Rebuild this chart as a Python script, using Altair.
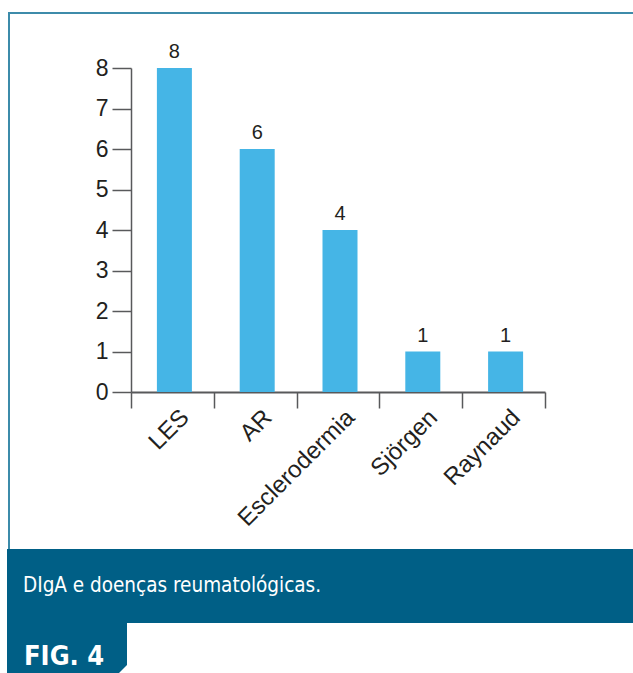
import altair as alt
import pandas as pd

# Casos de DIgA por doença reumatológica
doencas = ["LES", "AR", "Esclerodermia", "Sjörgen", "Raynaud"]
casos = [8, 6, 4, 1, 1]
y_ticks = [0, 1, 2, 3, 4, 5, 6, 7, 8]

legenda = "DIgA e doenças reumatológicas."
figura = "FIG. 4"

df = pd.DataFrame({"doenca": doencas, "casos": casos})

SANS = "Liberation Sans"
NARROW = "DejaVu Sans Condensed"
INK = "#231F20"
AXIS = "#58595B"
BAR = "#45B5E6"
PANEL = "#005F86"
FRAME = "#3D8BAA"

# Plot area is placed with padding; the frame and caption sit in the padding.
PAD = {"left": 131, "top": 68, "right": 88, "bottom": 281}
W, H = 414, 324

x = alt.X(
    "doenca:N",
    sort=doencas,
    title=None,
    scale=alt.Scale(paddingInner=0, paddingOuter=0),
    axis=alt.Axis(
        labelAngle=-45,
        labelAlign="right",
        labelBaseline="top",
        labelFont=SANS,
        labelFontSize=24,
        labelColor=INK,
        labelPadding=-3,
        labelOffset=4,
        tickBand="extent",
        tickSize=16,
        tickColor=AXIS,
        tickWidth=1.5,
        domainColor=AXIS,
        domainWidth=2,
        grid=False,
    ),
)
y = alt.Y(
    "casos:Q",
    title=None,
    scale=alt.Scale(domain=[0, 8], nice=False),
    axis=alt.Axis(
        values=y_ticks,
        labelFont=SANS,
        labelFontSize=23,
        labelColor=INK,
        labelPadding=4,
        tickSize=19,
        tickColor=AXIS,
        tickWidth=1.5,
        domainColor=AXIS,
        domainWidth=1.5,
        grid=False,
    ),
)

bars = alt.Chart(df).mark_bar(width=35, color=BAR, xOffset=2).encode(x=x, y=y)

values = alt.Chart(df).mark_text(
    dy=-6, dx=2, baseline="bottom", font=SANS, fontSize=20, color=INK
).encode(x=x, y=y, text="casos:Q")

# Frame lines around the figure
top_line = alt.Chart(df).mark_rule(color=FRAME, strokeWidth=2).encode(
    x=alt.value(-123), x2=alt.value(502), y=alt.value(-55)
)
left_line = alt.Chart(df).mark_rule(color=FRAME, strokeWidth=1.5).encode(
    x=alt.value(-122), y=alt.value(-56), y2=alt.value(481)
)

# Caption band and figure tab
caption_band = alt.Chart(df).mark_rect(color=PANEL).encode(
    x=alt.value(-124), x2=alt.value(502), y=alt.value(481), y2=alt.value(555)
)
tab = alt.Chart(df).mark_rect(color=PANEL).encode(
    x=alt.value(-124), x2=alt.value(-4), y=alt.value(554), y2=alt.value(605)
)
tab_cut = alt.Chart(pd.DataFrame({"k": [0]})).mark_point(
    shape="M 1 -1 L 1 1 L -1 1 Z", filled=True, color="white", opacity=1, size=121
).encode(x=alt.value(-6.5), y=alt.value(599.5))

caption_text = alt.Chart(pd.DataFrame({"t": [legenda]})).mark_text(
    align="left", baseline="alphabetic", font=NARROW, fontSize=20.5, color="white"
).encode(x=alt.value(-108), y=alt.value(524), text="t:N")

fig_text = alt.Chart(pd.DataFrame({"t": [figura]})).mark_text(
    align="left", baseline="alphabetic", font=NARROW, fontSize=27,
    fontWeight="bold", color="white"
).encode(x=alt.value(-107), y=alt.value(597), text="t:N")

chart = (
    alt.layer(
        top_line, left_line, caption_band, tab, tab_cut,
        caption_text, fig_text, bars, values,
    )
    .properties(
        width=W,
        height=H,
        padding=PAD,
        autosize=alt.AutoSizeParams(type="none"),
        background="white",
    )
    .configure_view(strokeWidth=0)
)

chart.save("out.html", embed_options={"renderer": "svg", "actions": False})
